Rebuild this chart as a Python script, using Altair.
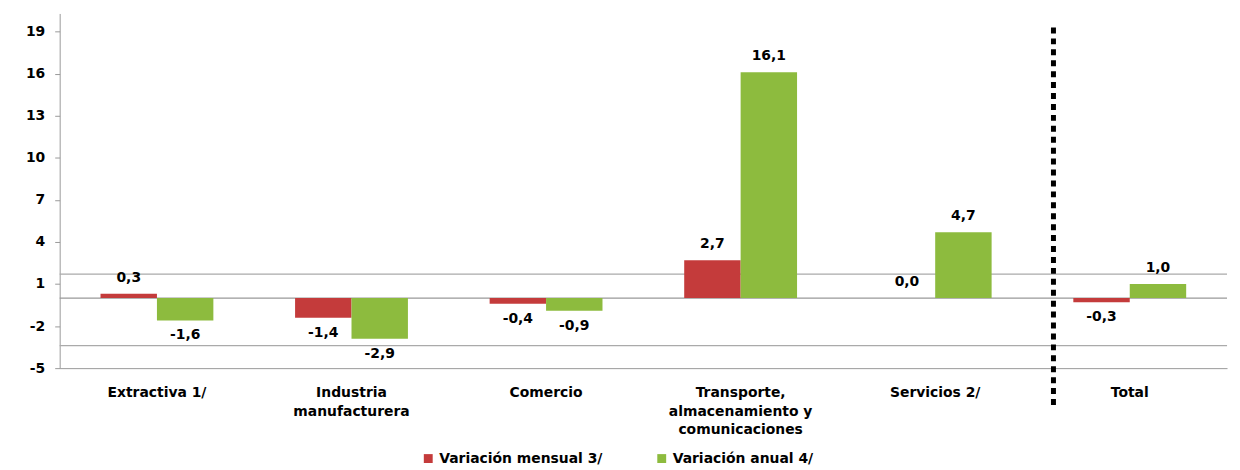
import altair as alt
import pandas as pd

categories = ["Extractiva 1/", "Industria manufacturera", "Comercio",
              "Transporte, almacenamiento y comunicaciones", "Servicios 2/", "Total"]
label_lines = {
    "Extractiva 1/": ["Extractiva 1/"],
    "Industria manufacturera": ["Industria", "manufacturera"],
    "Comercio": ["Comercio"],
    "Transporte, almacenamiento y comunicaciones": ["Transporte,", "almacenamiento y", "comunicaciones"],
    "Servicios 2/": ["Servicios 2/"],
    "Total": ["Total"],
}
series_names = ["Variación mensual 3/", "Variación anual 4/"]
mensual = [0.3, -1.4, -0.4, 2.7, 0.0, -0.3]
anual = [-1.6, -2.9, -0.9, 16.1, 4.7, 1.0]
y_ticks = [-5, -2, 1, 4, 7, 10, 13, 16, 19]
floor_lines = [1.7, -3.4]
colors = ["#C43B3B", "#8DBB3E"]

rows = []
for c, m, a in zip(categories, mensual, anual):
    for s, v in zip(series_names, [m, a]):
        rows.append({"cat": c, "serie": s, "valor": v,
                     "etiqueta": f"{v:.1f}".replace(".", ",")})
df = pd.DataFrame(rows)

W, H = 1175, 357
FONT = "DejaVu Sans"
FS = 14

expr_parts = []
for k, v in label_lines.items():
    arr = "[" + ",".join("'" + s + "'" for s in v) + "]"
    expr_parts.append(f"datum.label == '{k}' ? {arr}")
label_expr = " : ".join(expr_parts) + " : datum.label"

x_scale = alt.Scale(domain=categories, paddingInner=0.42, paddingOuter=0.21)
y_scale = alt.Scale(domain=[-5, 20.3], nice=False, zero=False)
off_scale = alt.Scale(domain=series_names, paddingInner=0)

base = alt.Chart(df)

bars = base.mark_bar().encode(
    x=alt.X("cat:N", scale=x_scale, sort=categories, title=None,
            axis=alt.Axis(labelExpr=label_expr, labelAngle=0, labelFont=FONT,
                          labelFontWeight="bold", labelFontSize=FS, labelColor="black",
                          labelPadding=18, labelLineHeight=18.5, ticks=False,
                          domainColor="#999", labelLimit=300)),
    y=alt.Y("valor:Q", scale=y_scale, title=None,
            axis=alt.Axis(values=y_ticks, grid=False, labelFont=FONT, labelFontWeight="bold",
                          labelFontSize=FS, labelColor="black", domainColor="#999",
                          tickColor="#999", tickSize=5, labelPadding=10,
                          labelExpr="replace(datum.label, '\u2212', '-')")),
    xOffset=alt.XOffset("serie:N", sort=series_names, scale=off_scale),
    color=alt.Color("serie:N", sort=series_names,
                    scale=alt.Scale(domain=series_names, range=colors),
                    legend=alt.Legend(title=None, orient="none", direction="horizontal",
                                      legendX=364, legendY=441, symbolType="square",
                                      symbolSize=80, symbolStrokeWidth=0,
                                      labelFont=FONT, labelFontWeight="bold", labelFontSize=FS,
                                      labelColor="black", columnPadding=52, labelOffset=4,
                                      labelLimit=400)),
)

pos_labels = base.transform_filter("datum.valor >= 0").mark_text(
    baseline="bottom", dy=-9, font=FONT, fontWeight="bold", fontSize=FS, color="black"
).encode(
    x=alt.X("cat:N", scale=x_scale, sort=categories),
    xOffset=alt.XOffset("serie:N", sort=series_names, scale=off_scale),
    y=alt.Y("valor:Q", scale=y_scale),
    text="etiqueta:N",
)
neg_labels = base.transform_filter("datum.valor < 0").mark_text(
    baseline="top", dy=8, font=FONT, fontWeight="bold", fontSize=FS, color="black"
).encode(
    x=alt.X("cat:N", scale=x_scale, sort=categories),
    xOffset=alt.XOffset("serie:N", sort=series_names, scale=off_scale),
    y=alt.Y("valor:Q", scale=y_scale),
    text="etiqueta:N",
)

zero_rule = alt.Chart(pd.DataFrame({"y": [0]})).mark_rule(color="#999", strokeWidth=1.2).encode(
    y=alt.Y("y:Q", scale=y_scale))
floor_rule = alt.Chart(pd.DataFrame({"y": floor_lines})).mark_rule(color="#aaa", strokeWidth=1.2).encode(
    y=alt.Y("y:Q", scale=y_scale))

sep = alt.Chart(pd.DataFrame({"cat": ["Total"]})).mark_rule(
    color="black", strokeWidth=5, strokeDash=[6, 5]
).encode(
    x=alt.X("cat:N", scale=x_scale, sort=categories, bandPosition=0),
    xOffset=alt.value(-20),
    y=alt.datum(19.3),
    y2=alt.value(H + 41),
)

chart = alt.layer(floor_rule, zero_rule, bars, pos_labels, neg_labels, sep).properties(
    width=W, height=H,
    autosize=alt.AutoSizeParams(type="none"),
    padding={"left": 52, "top": 4, "right": 5, "bottom": 97},
).configure(background="white").configure_view(stroke=None)

chart.save("out.html", embed_options={"renderer": "svg", "actions": False})
